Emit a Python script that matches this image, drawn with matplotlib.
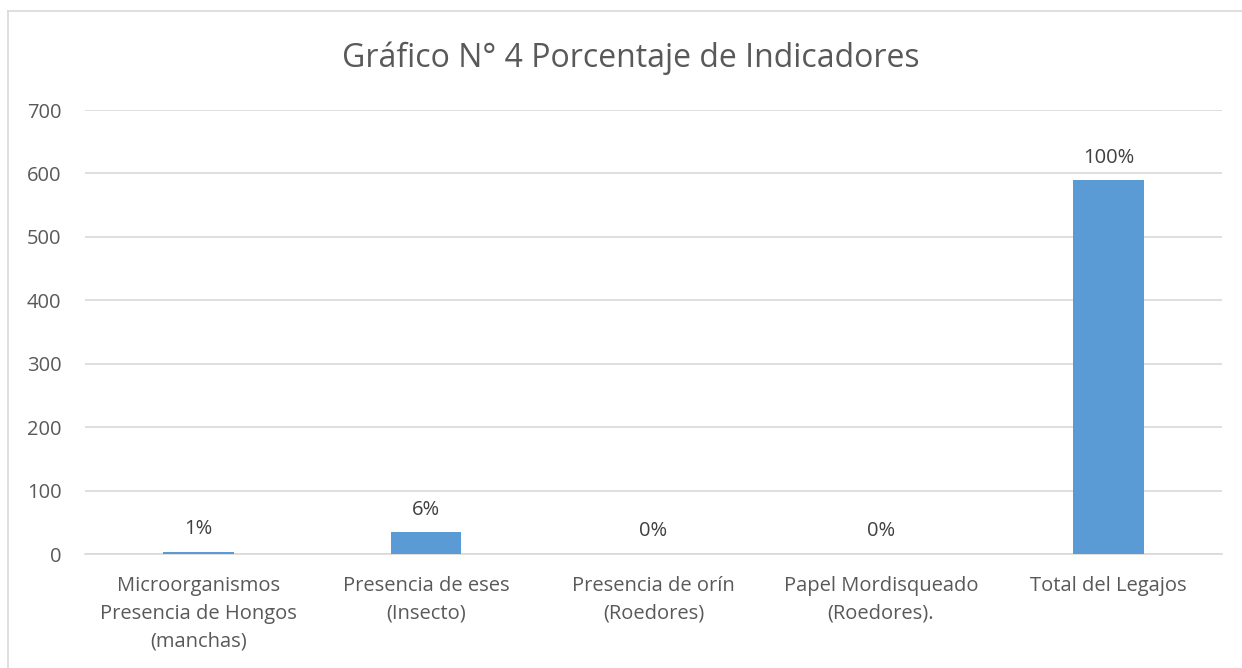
import matplotlib
matplotlib.use("Agg")
import matplotlib.pyplot as plt
from matplotlib.lines import Line2D

categories = ["Microorganismos\nPresencia de Hongos\n(manchas)",
              "Presencia de eses\n(Insecto)",
              "Presencia de orín\n(Roedores)",
              "Papel Mordisqueado\n(Roedores).",
              "Total del Legajos"]
values = [3, 34, 0, 0, 589]
labels = ["1%", "6%", "0%", "0%", "100%"]
yticks = [0, 100, 200, 300, 400, 500, 600, 700]

plt.rcParams['font.family'] = ['Open Sans', 'DejaVu Sans']
txt = '#595959'

fig = plt.figure(figsize=(12.42, 6.68), dpi=100)
ax = fig.add_axes([85/1242, 1-554/668, (1222-85)/1242, (554-110)/668])

x = range(len(categories))
bars = ax.bar(x, values, width=0.31, color='#5B9BD5', zorder=3)
for xi, v, lab in zip(x, values, labels):
    ax.text(xi, v + 20, lab, ha='center', va='bottom', fontsize=14.5, color='#404040')

ax.set_ylim(0, 700)
ax.set_xlim(-0.5, len(categories) - 0.5)
ax.set_yticks(yticks)
ax.set_xticks(list(x))
ax.set_xticklabels(categories, fontsize=14.5, color=txt, linespacing=1.5)
ax.tick_params(axis='y', labelsize=14.5, labelcolor=txt, length=0, pad=17)
ax.tick_params(axis='x', length=0, pad=16)
ax.grid(axis='y', color='#D9D9D9', linewidth=1.2, zorder=0)
for s in ['top', 'right', 'left']:
    ax.spines[s].set_visible(False)
ax.spines['bottom'].set_color('#D9D9D9')
ax.spines['bottom'].set_linewidth(1.2)

fig.text(631/1242, 1-58/668, "Gráfico N° 4 Porcentaje de Indicadores", ha='center', va='center',
         fontsize=23, color=txt)

# outer chart border (left and top visible)
fig.add_artist(Line2D([8/1242, 8/1242], [0, 1-11/668], transform=fig.transFigure, color='#D9D9D9', lw=1.2))
fig.add_artist(Line2D([8/1242, 1], [1-11/668, 1-11/668], transform=fig.transFigure, color='#D9D9D9', lw=1.2))

fig.savefig("out.png", dpi=100)
